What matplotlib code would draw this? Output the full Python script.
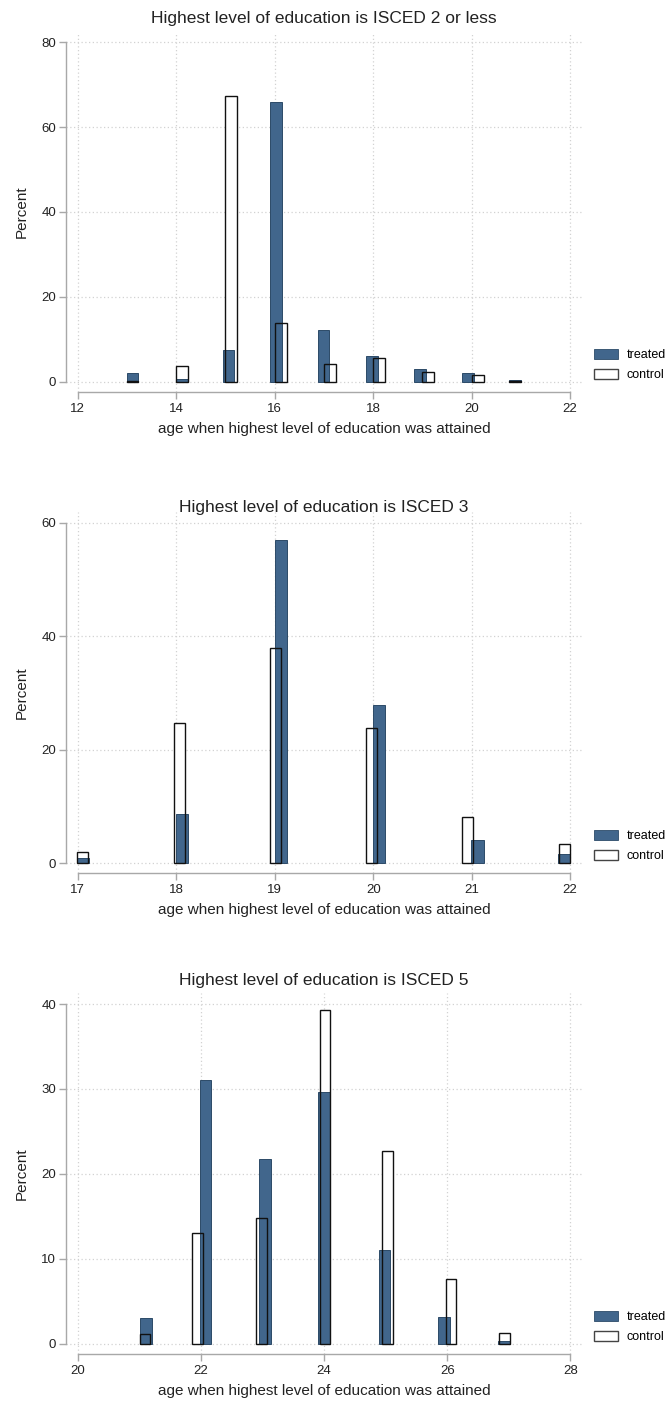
import matplotlib
matplotlib.use("Agg")
import matplotlib.pyplot as plt
from matplotlib.patches import Patch

plt.rcParams['font.family'] = ['Liberation Sans', 'DejaVu Sans']

# ---------------- data ----------------
titles = ["Highest level of education is ISCED 2 or less",
          "Highest level of education is ISCED 3",
          "Highest level of education is ISCED 5"]

# bar centres (histogram bin positions) and percents
treated_x1 = [13.11, 14.11, 15.06, 16.03, 16.99, 17.97, 18.95, 19.92, 20.88]
treated1 = [2.1, 0.6, 7.5, 65.9, 12.2, 6.1, 3.0, 2.0, 0.4]
control_x1 = [13.11, 14.12, 15.11, 16.12, 17.12, 18.12, 19.12, 20.13, 20.88]
control1 = [0.3, 3.7, 67.3, 13.9, 4.1, 5.6, 2.3, 1.5, 0.3]

treated_x2 = [17.05, 18.06, 19.06, 20.06, 21.06, 21.94]
treated2 = [0.8, 8.6, 57.0, 27.8, 4.1, 1.6]
control_x2 = [17.05, 18.03, 19.01, 19.98, 20.96, 21.94]
control2 = [1.9, 24.7, 37.9, 23.8, 8.2, 3.3]

treated_x3 = [21.10, 22.07, 23.04, 24.00, 24.98, 25.95, 26.92]
treated3 = [3.0, 31.1, 21.7, 29.6, 11.0, 3.1, 0.35]
control_x3 = [21.09, 21.94, 22.98, 24.01, 25.03, 26.06, 26.93]
control3 = [1.1, 13.0, 14.8, 39.3, 22.7, 7.6, 1.25]

xticks1 = [12, 14, 16, 18, 20, 22]
yticks1 = [0, 20, 40, 60, 80]
xticks2 = [17, 18, 19, 20, 21, 22]
yticks2 = [0, 20, 40, 60]
xticks3 = [20, 22, 24, 26, 28]
yticks3 = [0, 10, 20, 30, 40]

xlabel = "age when highest level of education was attained"
ylabel = "Percent"
legend_labels = ["treated", "control"]

# ---------------- style ----------------
W, H = 671, 1404
TREAT = '#41668c'
TREAT_EDGE = '#2c4a68'
AXC = '#a8a8a8'
GRIDC = '#d2d2d2'
TXT = '#222222'

fig = plt.figure(figsize=(W / 100, H / 100), dpi=100)

panels = [
    dict(tx=treated_x1, tr=treated1, cx=control_x1, co=control1,
         xt=xticks1, yt=yticks1,
         top=32, bot=392, xlim=(11.76, 22.24), ylim=(-2.4, 82.4),
         wt=0.24, wc=0.24, title_px=18),
    dict(tx=treated_x2, tr=treated2, cx=control_x2, co=control2,
         xt=xticks2, yt=yticks2,
         top=512, bot=873, xlim=(16.88, 22.12), ylim=(-1.76, 61.9),
         wt=0.125, wc=0.108, title_px=507),
    dict(tx=treated_x3, tr=treated3, cx=control_x3, co=control3,
         xt=xticks3, yt=yticks3,
         top=993, bot=1354, xlim=(19.805, 28.19), ylim=(-1.2, 41.3),
         wt=0.19, wc=0.17, title_px=980),
]

left_px, right_px = 66, 582

for i, p in enumerate(panels):
    ax = fig.add_axes([left_px / W, 1 - p['bot'] / H,
                       (right_px - left_px) / W, (p['bot'] - p['top']) / H])
    ax.set_xlim(*p['xlim'])
    ax.set_ylim(*p['ylim'])

    # dotted grid
    for xv in p['xt']:
        ax.axvline(xv, color=GRIDC, lw=0.9, ls=(0, (1, 2)), zorder=0)
    for yv in p['yt']:
        ax.axhline(yv, color=GRIDC, lw=0.9, ls=(0, (1, 2)), zorder=0)

    # control (white fill) under, treated, then control outline on top
    ax.bar(p['cx'], p['co'], width=p['wc'], color='white',
           edgecolor='none', zorder=2)
    ax.bar(p['tx'], p['tr'], width=p['wt'], color=TREAT,
           edgecolor=TREAT_EDGE, lw=0.7, zorder=3)
    ax.bar(p['cx'], p['co'], width=p['wc'], color='none',
           edgecolor='#111111', lw=1.0, zorder=4)

    for s in ['top', 'right']:
        ax.spines[s].set_visible(False)
    for s in ['left', 'bottom']:
        ax.spines[s].set_color(AXC)
        ax.spines[s].set_linewidth(1.0)
    ax.spines['left'].set_bounds(p['yt'][0], p['yt'][-1])
    ax.spines['bottom'].set_bounds(p['xt'][0], p['xt'][-1])

    ax.set_xticks(p['xt'])
    ax.set_yticks(p['yt'])
    ax.set_xticklabels([str(v) for v in p['xt']])
    ax.set_yticklabels([str(v) for v in p['yt']])
    ax.tick_params(axis='both', colors=AXC, labelcolor=TXT, length=5,
                   width=1.0, labelsize=9.5)
    ax.tick_params(axis='x', pad=3)
    ax.tick_params(axis='y', pad=2)

    ax.set_ylabel(ylabel, fontsize=11, color=TXT, labelpad=9)
    ax.set_xlabel(xlabel, fontsize=11, color=TXT, labelpad=5)

    fig.text((left_px + right_px) / 2 / W, 1 - p['title_px'] / H,
             titles[i], ha='center', va='center', fontsize=12.5, color=TXT)

    handles = [Patch(facecolor=TREAT, edgecolor=TREAT_EDGE, lw=0.6),
               Patch(facecolor='white', edgecolor='#444444', lw=1.0)]
    ax.legend(handles, legend_labels, loc='lower left',
              bbox_to_anchor=(1.024, 0.03), frameon=False, fontsize=9,
              handlelength=1.85, handleheight=0.9, handletextpad=0.75,
              labelspacing=0.6, borderpad=0, borderaxespad=0)

fig.savefig('out.png', dpi=100)
